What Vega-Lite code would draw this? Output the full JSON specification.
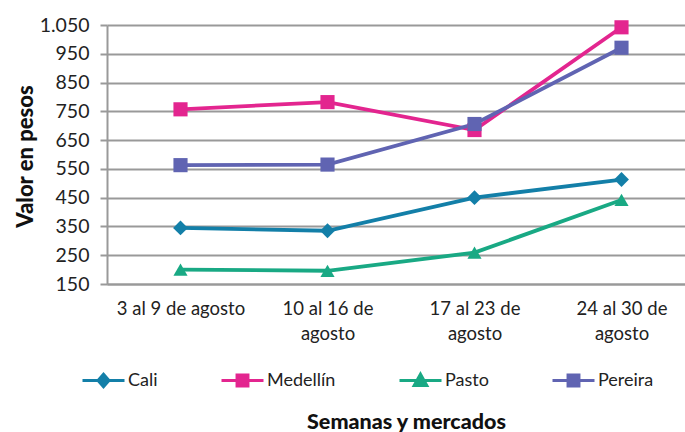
{
  "$schema": "https://vega.github.io/schema/vega-lite/v6.json",
  "width": 588,
  "height": 259,
  "autosize": {"type": "none"},
  "padding": {"left": 107, "top": 25, "right": 0, "bottom": 148},
  "background": "white",
  "config": {
    "view": {"stroke": null},
    "font": "Lato"
  },
  "data": {
    "values": [
      {"semana": "3 al 9 de agosto", "mercado": "Cali", "valor": 345},
      {"semana": "10 al 16 de agosto", "mercado": "Cali", "valor": 335},
      {"semana": "17 al 23 de agosto", "mercado": "Cali", "valor": 450},
      {"semana": "24 al 30 de agosto", "mercado": "Cali", "valor": 513},
      {"semana": "3 al 9 de agosto", "mercado": "Medellín", "valor": 757},
      {"semana": "10 al 16 de agosto", "mercado": "Medellín", "valor": 782},
      {"semana": "17 al 23 de agosto", "mercado": "Medellín", "valor": 685},
      {"semana": "24 al 30 de agosto", "mercado": "Medellín", "valor": 1042},
      {"semana": "3 al 9 de agosto", "mercado": "Pasto", "valor": 200},
      {"semana": "10 al 16 de agosto", "mercado": "Pasto", "valor": 196},
      {"semana": "17 al 23 de agosto", "mercado": "Pasto", "valor": 259},
      {"semana": "24 al 30 de agosto", "mercado": "Pasto", "valor": 442},
      {"semana": "3 al 9 de agosto", "mercado": "Pereira", "valor": 563},
      {"semana": "10 al 16 de agosto", "mercado": "Pereira", "valor": 565},
      {"semana": "17 al 23 de agosto", "mercado": "Pereira", "valor": 706},
      {"semana": "24 al 30 de agosto", "mercado": "Pereira", "valor": 971}
    ]
  },
  "encoding": {
    "x": {
      "field": "semana",
      "type": "nominal",
      "sort": ["3 al 9 de agosto", "10 al 16 de agosto", "17 al 23 de agosto", "24 al 30 de agosto"],
      "scale": {"type": "point", "padding": 0.5},
      "axis": {
        "title": "Semanas y mercados",
        "titleFont": "Lato",
        "titleFontSize": 21.5,
        "titleFontWeight": 900,
        "titleColor": "#111",
        "titleX": 299,
        "titleY": 138,
        "titleAlign": "center",
        "titleBaseline": "middle",
        "labelAngle": 0,
        "labelFontSize": 18.5,
        "labelColor": "#222",
        "labelPadding": 24,
        "labelLineHeight": 25,
        "labelBaseline": "middle",
        "labelExpr": "length(datum.label) > 16 ? [substring(datum.label, 0, length(datum.label) - 7), 'agosto'] : datum.label",
        "ticks": false,
        "domainColor": "#999",
        "domainWidth": 2,
        "grid": false
      }
    },
    "y": {
      "field": "valor",
      "type": "quantitative",
      "scale": {"domain": [150, 1050], "nice": false, "zero": false},
      "axis": {
        "title": "Valor en pesos",
        "titleFont": "Lato",
        "titleFontSize": 22,
        "titleFontWeight": 900,
        "titleColor": "#111",
        "titleX": -82,
        "titleY": 131,
        "titleAlign": "center",
        "titleBaseline": "middle",
        "values": [150, 250, 350, 450, 550, 650, 750, 850, 950, 1050],
        "labelExpr": "replace(format(datum.value, ','), ',', '.')",
        "labelFontSize": 19.5,
        "labelColor": "#222",
        "labelPadding": 11,
        "tickSize": 7,
        "tickColor": "#999",
        "tickWidth": 2,
        "domainColor": "#999",
        "domainWidth": 2,
        "grid": true,
        "gridColor": "#999",
        "gridWidth": 2
      }
    },
    "color": {
      "field": "mercado",
      "type": "nominal",
      "scale": {
        "domain": ["Cali", "Medellín", "Pasto", "Pereira"],
        "range": ["#137fa8", "#e3258f", "#19a984", "#6064b2"]
      },
      "legend": {
        "title": null,
        "orient": "none",
        "direction": "horizontal",
        "legendX": -26,
        "legendY": 333,
        "gridAlign": "none",
        "columnPadding": 57,
        "symbolSize": 1764,
        "symbolStrokeWidth": 3,
        "symbolOpacity": 1,
        "labelFontSize": 18,
        "labelColor": "#222",
        "labelOffset": 2,
        "encode": {
          "symbols": {
            "update": {
              "shape": {"signal": "datum.value === 'Cali' ? 'M-1,0H1M0,-0.3L0.26,0L0,0.3L-0.26,0Z' : datum.value === 'Pasto' ? 'M-1,0H1M0,-0.3L0.3,0.24L-0.3,0.24Z' : 'M-1,0H1M-0.26,-0.26H0.26V0.26H-0.26Z'"},
              "stroke": {"signal": "scale('color', datum.value)"},
              "fill": {"signal": "scale('color', datum.value)"},
              "strokeWidth": {"value": 3}
            }
          }
        }
      }
    }
  },
  "layer": [
    {
      "mark": {"type": "line", "strokeWidth": 3.8}
    },
    {
      "transform": [{"filter": "datum.mercado === 'Cali'"}],
      "mark": {"type": "point", "filled": true, "opacity": 1, "size": 220, "shape": "diamond"}
    },
    {
      "transform": [{"filter": "datum.mercado === 'Pasto'"}],
      "mark": {"type": "point", "filled": true, "opacity": 1, "size": 200, "shape": "triangle-up"}
    },
    {
      "transform": [{"filter": "datum.mercado === 'Medellín' || datum.mercado === 'Pereira'"}],
      "mark": {"type": "point", "filled": true, "opacity": 1, "size": 200, "shape": "square"}
    }
  ]
}
